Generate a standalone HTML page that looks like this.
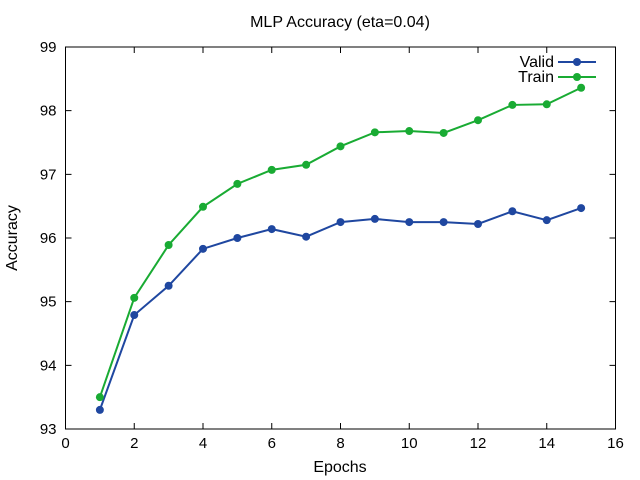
<!DOCTYPE html>
<html><head><meta charset="utf-8"><style>body{margin:0;background:#fff}svg{display:block;font-family:"Liberation Sans",sans-serif}</style></head>
<body>
<svg id="chart" width="640" height="480" viewBox="0 0 640 480" xmlns="http://www.w3.org/2000/svg"></svg>
<script>
const epochs=[1,2,3,4,5,6,7,8,9,10,11,12,13,14,15];
const validAcc=[93.30,94.79,95.25,95.83,96.00,96.14,96.02,96.25,96.30,96.25,96.25,96.22,96.42,96.28,96.47];
const trainAcc=[93.50,95.06,95.89,96.49,96.85,97.07,97.15,97.44,97.66,97.68,97.65,97.85,98.09,98.10,98.36];
const xTicks=[0,2,4,6,8,10,12,14,16];
const yTicks=[93,94,95,96,97,98,99];
const L=65.5,R=615.5,T=47,B=429;
const xs=v=>L+(v-0)/16*(R-L);
const ys=v=>B-(v-93)/6*(B-T);
const svg=document.getElementById('chart');
const NS='http://www.w3.org/2000/svg';
function mk(tag,attrs,parent){const e=document.createElementNS(NS,tag);for(const k in attrs)e.setAttribute(k,attrs[k]);(parent||svg).appendChild(e);return e;}
let frame=mk('rect',{x:L,y:T,width:R-L,height:B-T,fill:'none',stroke:'#000','stroke-width':1});


xTicks.forEach(t=>{const x=xs(t);
 let l=mk('path',{d:`M${x},${B}v-6M${x},${T}v6`,stroke:'#000'});
 
 
 let tx=mk('text',{x:x,y:B+19,'text-anchor':'middle','font-size':15});tx.textContent=t;
 
 
});
yTicks.forEach(t=>{const y=ys(t);
 let l=mk('path',{d:`M${L},${y}h6M${R},${y}h-6`,stroke:'#000'});
 
 
 let tx=mk('text',{x:L-9,y:y+5,'text-anchor':'end','font-size':15});tx.textContent=t;
 
 
});
function series(vals,color,name){
 const g=mk('g',{});
 
 
 mk('polyline',{points:vals.map((v,i)=>xs(epochs[i])+','+ys(v)).join(' '),fill:'none',stroke:color,'stroke-width':2},g);
 vals.forEach((v,i)=>{let c=mk('circle',{cx:xs(epochs[i]),cy:ys(v),r:4,fill:color},g);
  
  });
}
series(validAcc,'#1f47a0','valid');
series(trainAcc,'#19ab33','train');
[['Valid','#1f47a0',62],['Train','#19ab33',77]].forEach(([n,c,y])=>{
 const g=mk('g',{});
 
 
 let t=mk('text',{x:554,y:y+5,'text-anchor':'end','font-size':16},g);t.textContent=n;
 mk('line',{x1:558,y1:y,x2:596,y2:y,stroke:c,'stroke-width':2},g);
 mk('circle',{cx:577,cy:y,r:4,fill:c},g);
});
let title=mk('text',{x:340,y:27,'text-anchor':'middle','font-size':16});title.textContent='MLP Accuracy (eta=0.04)';


let xt=mk('text',{x:340,y:472,'text-anchor':'middle','font-size':16});xt.textContent='Epochs';


let yt=mk('text',{x:17,y:238,'text-anchor':'middle','font-size':16,transform:'rotate(-90 17 238)'});yt.textContent='Accuracy';


</script>
</body></html>
